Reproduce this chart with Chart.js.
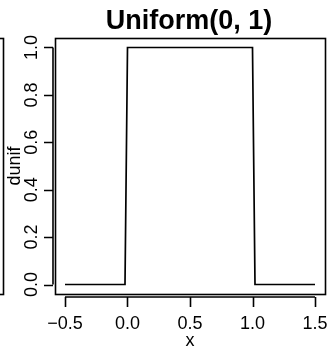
<!DOCTYPE html>
<html>
<head>
<meta charset="utf-8">
<script src="https://cdn.jsdelivr.net/npm/chart.js@4/dist/chart.umd.min.js"></script>
<style>
  html, body { margin: 0; padding: 0; background: #ffffff; }
  canvas { display: block; }
</style>
</head>
<body>
<canvas id="c" width="327" height="347"></canvas>
<script>
// ---- data ----
const titleText = "Uniform(0, 1)";
const xLabel = "x";
const yLabel = "dunif";
const xValues = [-0.5, -0.02, 0, 1, 1.02, 1.5];
const yValues = [0, 0, 1, 1, 0, 0];
const xTickValues = [-0.5, 0, 0.5, 1, 1.5];
const xTickLabels = ["\u22120.5", "0.0", "0.5", "1.0", "1.5"];
const yTickValues = [0, 0.2, 0.4, 0.6, 0.8, 1.0];
const yTickLabels = ["0.0", "0.2", "0.4", "0.6", "0.8", "1.0"];
const xRange = [-0.58, 1.58];
const yRange = [-0.04, 1.04];

const FONT = '"Liberation Sans", Arial, Helvetica, sans-serif';

const rAxesPlugin = {
  id: 'rAxes',
  afterDraw(chart) {
    const ctx = chart.ctx;
    const a = chart.chartArea;
    const xs = chart.scales.x, ys = chart.scales.y;
    ctx.save();
    ctx.strokeStyle = '#000';
    ctx.fillStyle = '#000';
    ctx.lineWidth = 1.6;

    // neighbouring panel edge at far left
    ctx.strokeRect(-10, a.top + 0.5, 13.5, a.bottom - a.top);

    // plot box
    ctx.strokeRect(a.left + 0.5, a.top + 0.5, a.right - a.left, a.bottom - a.top);

    // x axis (R style, offset below box)
    const xAxisY = a.bottom + 3;
    const x0 = xs.getPixelForValue(xTickValues[0]);
    const x1 = xs.getPixelForValue(xTickValues[xTickValues.length - 1]);
    ctx.beginPath();
    ctx.moveTo(x0, xAxisY); ctx.lineTo(x1, xAxisY);
    xTickValues.forEach(v => {
      const px = Math.round(xs.getPixelForValue(v)) + 0.5;
      ctx.moveTo(px, xAxisY); ctx.lineTo(px, xAxisY + 10);
    });
    ctx.stroke();
    ctx.font = '18px ' + FONT;
    ctx.textAlign = 'center';
    ctx.textBaseline = 'alphabetic';
    xTickValues.forEach((v, i) => {
      ctx.fillText(xTickLabels[i], xs.getPixelForValue(v), 329);
    });
    ctx.fillText(xLabel, (a.left + a.right) / 2, 346);

    // y axis (R style, offset left of box)
    const yAxisX = a.left - 2;
    const y0 = ys.getPixelForValue(yTickValues[0]);
    const y1 = ys.getPixelForValue(yTickValues[yTickValues.length - 1]);
    ctx.beginPath();
    ctx.moveTo(yAxisX, y0); ctx.lineTo(yAxisX, y1);
    yTickValues.forEach(v => {
      const py = Math.round(ys.getPixelForValue(v)) + 0.5;
      ctx.moveTo(yAxisX, py); ctx.lineTo(yAxisX - 9, py);
    });
    ctx.stroke();
    yTickValues.forEach((v, i) => {
      ctx.save();
      ctx.translate(37, ys.getPixelForValue(v));
      ctx.rotate(-Math.PI / 2);
      ctx.fillText(yTickLabels[i], 0, 0);
      ctx.restore();
    });
    ctx.save();
    ctx.translate(20, (a.top + a.bottom) / 2);
    ctx.rotate(-Math.PI / 2);
    ctx.fillText(yLabel, 0, 0);
    ctx.restore();

    // title
    ctx.font = 'bold 27px ' + FONT;
    ctx.fillText(titleText, (a.left + a.right) / 2 - 1, 29);
    ctx.restore();
  }
};

new Chart(document.getElementById('c'), {
  type: 'scatter',
  data: {
    datasets: [{
      data: xValues.map((x, i) => ({ x: x, y: yValues[i] })),
      showLine: true,
      borderColor: '#000',
      borderWidth: 1.7,
      pointRadius: 0,
      tension: 0,
      fill: false
    }]
  },
  options: {
    responsive: false,
    animation: false,
    devicePixelRatio: 1,
    layout: { padding: { left: 55, right: 2, top: 38, bottom: 53 } },
    scales: {
      x: { type: 'linear', min: xRange[0], max: xRange[1], display: false },
      y: { type: 'linear', min: yRange[0], max: yRange[1], display: false }
    },
    plugins: {
      legend: { display: false },
      tooltip: { enabled: false },
      title: { display: false }
    }
  },
  plugins: [rAxesPlugin]
});
</script>
</body>
</html>
